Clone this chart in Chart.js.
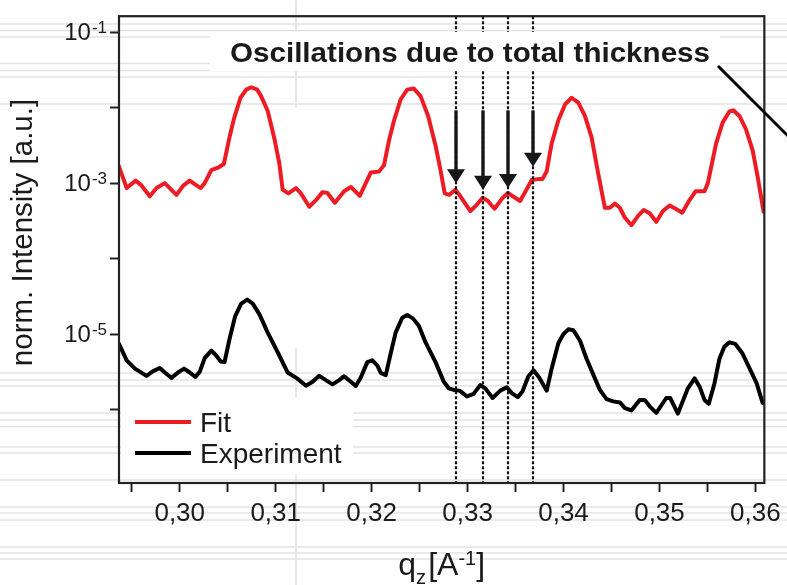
<!DOCTYPE html>
<html><head><meta charset="utf-8">
<script src="https://cdn.jsdelivr.net/npm/chart.js@4.4.1/dist/chart.umd.min.js"></script>
<style>html,body{margin:0;padding:0;background:#fff;}canvas{display:block;}</style>
</head><body>
<canvas id="c" width="787" height="585"></canvas>
<script>
// ---- data ----
const qFit = [0.29367,0.29447,0.29540,0.29595,0.29688,0.29758,0.29844,0.29896,0.29966,0.30034,
0.30104,0.30156,0.30218,0.30260,0.30329,0.30398,0.30460,0.30519,0.30564,0.30633,
0.30693,0.30745,0.30807,0.30848,0.30917,0.30987,0.31038,0.31073,0.31132,0.31212,
0.31264,0.31350,0.31420,0.31488,0.31540,0.31617,0.31713,0.31783,0.31876,0.31991,
0.32077,0.32129,0.32181,0.32233,0.32302,0.32371,0.32440,0.32510,0.32589,0.32666,
0.32718,0.32762,0.32811,0.32873,0.32925,0.33029,0.33098,0.33157,0.33212,0.33281,
0.33357,0.33420,0.33479,0.33548,0.33669,0.33731,0.33780,0.33824,0.33876,0.33946,
0.34016,0.34084,0.34154,0.34223,0.34292,0.34361,0.34431,0.34483,0.34535,0.34587,
0.34639,0.34707,0.34777,0.34836,0.34898,0.34967,0.35036,0.35106,0.35168,0.35237,
0.35306,0.35376,0.35469,0.35504,0.35590,0.35659,0.35729,0.35770,0.35833,0.35901,
0.35971,0.36023,0.36085];
const fitValues = [1.67e-3,8.6e-4,1.08e-3,9.5e-4,6.7e-4,8.6e-4,1.0e-3,8.6e-4,7.0e-4,9.2e-4,
1.08e-3,9.7e-4,8.6e-4,1.0e-3,1.49e-3,1.60e-3,1.79e-3,4.06e-3,7.03e-3,1.35e-2,
1.73e-2,1.86e-2,1.73e-2,1.42e-2,9.0e-3,3.86e-3,1.82e-3,8.2e-4,7.3e-4,8.6e-4,
7.3e-4,4.87e-4,5.95e-4,7.6e-4,7.4e-4,5.5e-4,7.8e-4,8.9e-4,6.8e-4,1.38e-3,
1.42e-3,1.73e-3,3.67e-3,6.7e-3,1.28e-2,1.73e-2,1.79e-2,1.42e-2,7.76e-3,3.15e-3,
1.49e-3,7.3e-4,7.0e-4,8.2e-4,6.7e-4,4.27e-4,5.2e-4,6.4e-4,5.8e-4,4.58e-4,
6.2e-4,7.4e-4,6.6e-4,5.8e-4,1.10e-3,1.13e-3,1.13e-3,1.42e-3,3.33e-3,6.8e-3,
1.10e-2,1.35e-2,1.16e-2,7.76e-3,4.06e-3,1.35e-3,4.72e-4,4.72e-4,5.37e-4,4.72e-4,
3.5e-4,2.77e-4,3.68e-4,4.41e-4,3.98e-4,3.08e-4,4.27e-4,5.06e-4,4.58e-4,4.06e-4,
5.77e-4,7.8e-4,7.8e-4,1.0e-3,3.33e-3,6.37e-3,8.87e-3,9.2e-3,7.76e-3,5.2e-3,
2.72e-3,1.22e-3,4.19e-4];
const qExp = [0.29367,0.29447,0.29533,0.29654,0.29723,0.29792,0.29844,0.29914,0.29982,0.30045,
0.30104,0.30163,0.30208,0.30260,0.30329,0.30381,0.30426,0.30467,0.30519,0.30578,
0.30641,0.30703,0.30761,0.30831,0.30917,0.31021,0.31125,0.31222,0.31316,0.31384,
0.31454,0.31523,0.31592,0.31662,0.31713,0.31783,0.31835,0.31887,0.31955,0.32007,
0.32059,0.32095,0.32147,0.32198,0.32250,0.32319,0.32371,0.32430,0.32492,0.32562,
0.32666,0.32752,0.32804,0.32856,0.32915,0.32994,0.33063,0.33133,0.33185,0.33261,
0.33341,0.33409,0.33461,0.33523,0.33572,0.33634,0.33687,0.33746,0.33825,0.33876,
0.33946,0.33998,0.34050,0.34102,0.34172,0.34240,0.34327,0.34379,0.34448,0.34517,
0.34587,0.34639,0.34707,0.34794,0.34846,0.34898,0.34967,0.35071,0.35112,0.35192,
0.35296,0.35366,0.35418,0.35469,0.35514,0.35573,0.35625,0.35677,0.35729,0.35791,
0.35867,0.35964,0.36013,0.36075];
const expValues = [7.43e-6,4.5e-6,3.5e-6,2.81e-6,3.24e-6,3.57e-6,3.11e-6,2.64e-6,3.11e-6,3.5e-6,
3.11e-6,2.72e-6,3.17e-6,4.82e-6,6.07e-6,5.22e-6,4.36e-6,4.27e-6,8.63e-6,1.74e-5,
2.54e-5,2.87e-5,2.54e-5,1.83e-5,1.05e-5,5.77e-6,3.11e-6,2.6e-6,2.08e-6,2.34e-6,
2.81e-6,2.47e-6,2.17e-6,2.47e-6,2.78e-6,2.34e-6,2.06e-6,2.67e-6,4.27e-6,4.5e-6,
3.87e-6,3.08e-6,2.87e-6,5.5e-6,1.05e-5,1.65e-5,1.79e-5,1.62e-5,1.29e-5,7.79e-6,
4.27e-6,2.34e-6,1.92e-6,1.83e-6,1.79e-6,1.50e-6,1.62e-6,2.12e-6,1.92e-6,1.43e-6,
1.79e-6,1.98e-6,1.66e-6,1.47e-6,1.74e-6,2.78e-6,3.33e-6,2.67e-6,1.79e-6,3.5e-6,
7.6e-6,1.0e-5,1.16e-5,1.13e-5,8.2e-6,4.73e-6,2.6e-6,1.83e-6,1.38e-6,1.29e-6,
1.25e-6,1.05e-6,9.8e-7,1.35e-6,1.35e-6,1.11e-6,9.1e-7,1.43e-6,1.43e-6,8.9e-7,
1.92e-6,2.6e-6,2.02e-6,1.35e-6,1.2e-6,2.23e-6,4.73e-6,6.85e-6,7.8e-6,7.43e-6,
5.5e-6,3.02e-6,2.23e-6,1.23e-6];

const seriesNames = ['Fit', 'Experiment'];
const seriesColors = ['#ED1C24', '#000000'];
const xTickValues = [0.295,0.300,0.305,0.310,0.315,0.320,0.325,0.330,0.335,0.340,0.345,0.350,0.355,0.360];
const yTickExponents = [-6,-5,-4,-3,-2,-1];
const yLabelExponents = [-5,-3,-1];
const xRange = [0.29367, 0.36093];
const yRange = [Math.pow(10,-6.97), Math.pow(10,-0.79)];
const markerQ = [0.3288, 0.3316, 0.3342, 0.3368];
const arrowStart = 9.2e-3;
const arrowTips = [1.0e-3, 8.2e-4, 8.6e-4, 1.65e-3];
const annotationText = 'Oscillations due to total thickness';
const xTitle = ['q', 'z', '[A', '-1', ']'];
const yTitle = 'norm. Intensity [a.u.]';

const FONT = '"Liberation Sans", Arial, Helvetica, sans-serif';
const grayRows = [24,30.5,37,63.5,70.5,77,104,373,380,386,413,420,426.5,447,453,480,507,513,520,547,553,559];

const decor = {
  id: 'decor',
  beforeDraw(chart) {
    const c = chart.ctx;
    c.save();
    c.fillStyle = '#fff';
    c.fillRect(0, 0, chart.width, chart.height);
    c.strokeStyle = '#e3e3e3';
    c.lineWidth = 1.6;
    grayRows.forEach(y => { c.beginPath(); c.moveTo(0, y); c.lineTo(chart.width, y); c.stroke(); });
    c.beginPath(); c.moveTo(296, 0); c.lineTo(296, 107); c.moveTo(296, 348); c.lineTo(296, 585); c.stroke();
    c.fillStyle = '#fff';
    c.fillRect(121, 398, 232, 76);
    c.restore();
  },
  afterDatasetsDraw(chart) {
    const c = chart.ctx, xs = chart.scales.x, ys = chart.scales.y, a = chart.chartArea;
    c.save();
    c.strokeStyle = '#111';
    c.lineWidth = 2.2;
    c.setLineDash([3, 2]);
    markerQ.forEach(q => {
      const x = Math.round(xs.getPixelForValue(q));
      c.beginPath(); c.moveTo(x, a.top); c.lineTo(x, a.bottom); c.stroke();
    });
    c.setLineDash([]);
    c.fillStyle = '#161616';
    c.strokeStyle = '#161616';
    markerQ.forEach((q, i) => {
      const x = Math.round(xs.getPixelForValue(q));
      const y0 = ys.getPixelForValue(arrowStart);
      const y1 = ys.getPixelForValue(arrowTips[i]);
      c.lineWidth = 3.4;
      c.beginPath(); c.moveTo(x, y0); c.lineTo(x, y1 - 12); c.stroke();
      c.beginPath(); c.moveTo(x - 9, y1 - 14); c.lineTo(x + 9, y1 - 14); c.lineTo(x, y1); c.closePath(); c.fill();
    });
    c.restore();
  },
  afterDraw(chart) {
    const c = chart.ctx, a = chart.chartArea, ys = chart.scales.y;
    c.save();
    c.strokeStyle = '#222';
    c.lineWidth = 2.2;
    c.strokeRect(a.left, a.top, a.right - a.left, a.bottom - a.top);
    // y tick labels 10^n with real superscripts
    c.fillStyle = '#1a1a1a';
    c.textBaseline = 'alphabetic';
    c.textAlign = 'left';
    yLabelExponents.forEach(e => {
      const y = ys.getPixelForValue(Math.pow(10, e));
      const base = '10', ex = String(e);
      c.font = '24px ' + FONT;
      const wb = c.measureText(base).width;
      c.font = '17px ' + FONT;
      const we = c.measureText(ex).width;
      const right = a.left - 12;
      const x0 = right - we - 1 - wb;
      c.font = '24px ' + FONT;
      c.fillText(base, x0, y + 8);
      c.font = '17px ' + FONT;
      c.fillText(ex, x0 + wb + 1, y + 0.5);
    });
    // annotation
    c.fillStyle = '#fff';
    c.fillRect(210, 32, 510, 39);
    c.font = 'bold 27px ' + FONT;
    const w = c.measureText(annotationText).width;
    c.fillStyle = '#1a1a1a';
    c.save();
    c.translate(230, 62);
    c.scale(480 / w, 1);
    c.fillText(annotationText, 0, 0);
    c.restore();
    c.strokeStyle = '#000';
    c.lineWidth = 3;
    c.beginPath(); c.moveTo(718, 66); c.lineTo(795, 143); c.stroke();
    // legend
    chart.data.datasets.forEach((ds, i) => {
      const y = 422 + i * 31;
      c.strokeStyle = ds.borderColor;
      c.lineWidth = 4;
      c.beginPath(); c.moveTo(135, y); c.lineTo(191, y); c.stroke();
      c.fillStyle = '#1a1a1a';
      c.font = '28px ' + FONT;
      c.fillText(ds.label, 200, y + 9.5);
    });
    // x title with sub/superscript
    const big = '32px ' + FONT, small = '20px ' + FONT;
    const parts = [
      {t: xTitle[0], f: big, dy: 0},
      {t: xTitle[1], f: small, dy: 9},
      {t: ' ', f: '8px ' + FONT, dy: 0},
      {t: xTitle[2], f: big, dy: 0},
      {t: xTitle[3], f: small, dy: -10},
      {t: xTitle[4], f: big, dy: 0}
    ];
    let total = 0;
    parts.forEach(p => { c.font = p.f; p.w = c.measureText(p.t).width; total += p.w; });
    let x = (a.left + a.right) / 2 - total / 2;
    parts.forEach(p => { c.font = p.f; c.fillText(p.t, x, 575 + p.dy); x += p.w; });
    // y title
    c.save();
    c.translate(31.5, 232.5);
    c.rotate(-Math.PI / 2);
    c.textAlign = 'center';
    c.font = '29.5px ' + FONT;
    c.fillText(yTitle, 0, 0);
    c.restore();
    c.restore();
  }
};

const mk = (qs, vs) => qs.map((q, i) => ({x: q, y: vs[i]}));

new Chart(document.getElementById('c').getContext('2d'), {
  type: 'line',
  data: {
    datasets: [
      {label: seriesNames[0], data: mk(qFit, fitValues), borderColor: seriesColors[0], borderWidth: 4,
       pointRadius: 0, tension: 0, fill: false, borderJoinStyle: 'round', borderCapStyle: 'round'},
      {label: seriesNames[1], data: mk(qExp, expValues), borderColor: seriesColors[1], borderWidth: 4,
       pointRadius: 0, tension: 0, fill: false, borderJoinStyle: 'round', borderCapStyle: 'round'}
    ]
  },
  options: {
    responsive: false,
    animation: false,
    devicePixelRatio: 1,
    layout: {padding: {top: 10, right: 20, left: 0, bottom: 0}},
    plugins: {legend: {display: false}, tooltip: {enabled: false}},
    scales: {
      x: {
        type: 'linear', min: xRange[0], max: xRange[1],
        afterBuildTicks: s => { s.ticks = xTickValues.map(v => ({value: v})); },
        afterFit: s => { s.height = 102; },
        ticks: {
          autoSkip: false, maxRotation: 0, minRotation: 0, padding: 6, color: '#1a1a1a',
          font: {family: FONT, size: 26},
          callback: v => { const k = Math.round(v * 1000); return k % 10 === 0 ? (k / 1000).toFixed(2).replace('.', ',') : ''; }
        },
        grid: {drawOnChartArea: false, drawTicks: true, tickLength: 9, tickWidth: 2, tickColor: '#222'},
        border: {display: false}
      },
      y: {
        type: 'logarithmic', min: yRange[0], max: yRange[1],
        afterBuildTicks: s => { s.ticks = yTickExponents.map(e => ({value: Math.pow(10, e)})); },
        afterFit: s => { s.width = 119; },
        ticks: {
          autoSkip: false, padding: 3, color: '#1a1a1a',
          font: {family: FONT, size: 22},
          callback: () => ''
        },
        grid: {drawOnChartArea: false, drawTicks: true, tickLength: 9, tickWidth: 2, tickColor: '#222'},
        border: {display: false}
      }
    }
  },
  plugins: [decor]
});
</script>
</body></html>
